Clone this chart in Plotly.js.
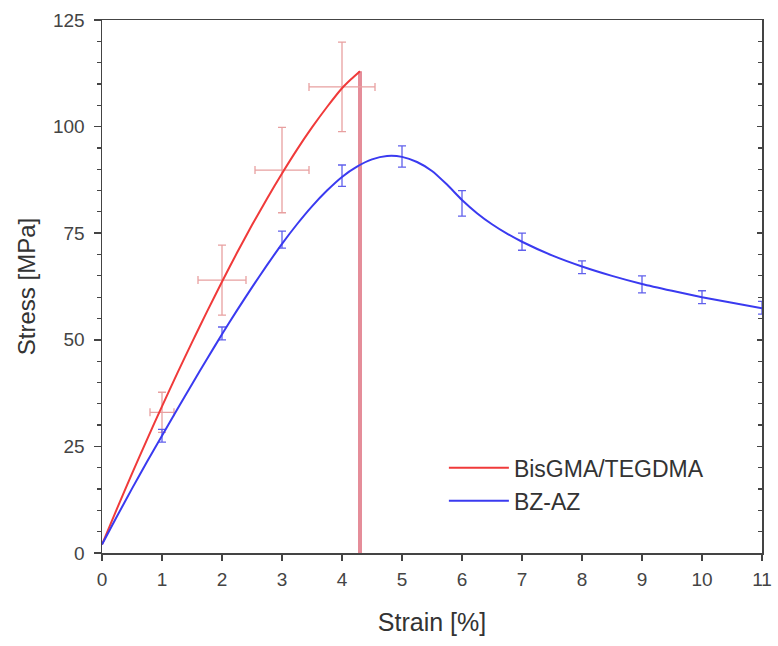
<!DOCTYPE html>
<html>
<head>
<meta charset="utf-8">
<script src="https://cdn.plot.ly/plotly-3.0.1.min.js"></script>
<style>
  html, body { margin: 0; padding: 0; background: #fff; }
  #chart { width: 778px; height: 646px; }
</style>
</head>
<body>
<div id="chart"></div>
<script>
// BisGMA/TEGDMA curve
const redCurveX = [0, 0.25, 0.5, 0.75, 1, 1.25, 1.5, 1.75, 2, 2.25, 2.5, 2.75, 3, 3.25, 3.5, 3.75, 4, 4.15, 4.3];
const redCurveY = [2, 10.4, 18.6, 26.6, 34.4, 42, 49.4, 56.6, 63.6, 70.4, 76.9, 83.1, 89, 94.6, 99.8, 104.6, 109, 111.1, 113];
const redDropX = [4.3, 4.3];
const redDropY = [113, 0];
// BisGMA/TEGDMA measured points with errors
const redPtsX = [1, 2, 3, 4];
const redPtsY = [33, 64, 89.8, 109.3];
const redErrY = [4.7, 8.2, 10, 10.5];
const redErrX = [0.2, 0.4, 0.45, 0.55];

// BZ-AZ curve
const blueCurveX = [0, 0.25, 0.5, 0.75, 1, 1.25, 1.5, 1.75, 2, 2.25, 2.5, 2.75, 3, 3.25, 3.5, 3.75, 4, 4.25, 4.5, 4.75, 5, 5.25, 5.5, 5.75, 6, 6.25, 6.5, 6.75, 7, 7.5, 8, 8.5, 9, 9.5, 10, 10.5, 11];
const blueCurveY = [2, 8.6, 15.1, 21.4, 27.5, 33.6, 39.6, 45.5, 51.3, 56.9, 62.3, 67.5, 72.5, 77.1, 81.3, 85, 88.2, 90.6, 92.3, 93.1, 92.9, 91.7, 89.6, 86.4, 82.8, 79.7, 77.1, 74.9, 73, 69.8, 67.2, 65, 63.1, 61.5, 60, 58.7, 57.4];
// BZ-AZ measured points with errors
const bluePtsX = [1, 2, 3, 4, 5, 6, 7, 8, 9, 10, 11];
const bluePtsY = [27.5, 51.5, 73.5, 88.5, 93, 82, 73, 67, 63, 60, 57.5];
const blueErrY = [1.5, 1.5, 2, 2.5, 2.5, 3, 2, 1.5, 2, 1.5, 1.5];

const xTicks = [0,1,2,3,4,5,6,7,8,9,10,11];
const yTicks = [0,25,50,75,100,125];

const RED = '#f03a3a';
const BLUE = '#3a3af0';

const traces = [
  {
    x: redDropX, y: redDropY, mode: 'lines', showlegend: false, hoverinfo: 'skip',
    line: { color: '#e58d99', width: 4 }
  },
  {
    x: redPtsX, y: redPtsY, mode: 'markers', showlegend: false,
    marker: { size: 1, color: 'rgba(0,0,0,0)' },
    error_y: { type: 'data', array: redErrY, color: '#e8a0a0', thickness: 1.3, width: 4 },
    error_x: { type: 'data', array: redErrX, color: '#e8a0a0', thickness: 1.3, width: 4 }
  },
  {
    x: bluePtsX, y: bluePtsY, mode: 'markers', showlegend: false,
    marker: { size: 1, color: 'rgba(0,0,0,0)' },
    error_y: { type: 'data', array: blueErrY, color: '#6060ec', thickness: 1.3, width: 4 }
  },
  {
    x: redCurveX, y: redCurveY, mode: 'lines', name: 'BisGMA/TEGDMA',
    line: { color: RED, width: 2, shape: 'spline', smoothing: 0.6 }
  },
  {
    x: blueCurveX, y: blueCurveY, mode: 'lines', name: 'BZ-AZ',
    line: { color: BLUE, width: 2, shape: 'spline', smoothing: 0.6 }
  },
  {
    x: [], y: [], yaxis: 'y2', showlegend: false, hoverinfo: 'skip'
  }
];

const fontFam = 'Liberation Sans, Arial, sans-serif';

const layout = {
  width: 778, height: 646,
  margin: { l: 102, r: 16, t: 20, b: 93 },
  paper_bgcolor: '#ffffff', plot_bgcolor: '#ffffff',
  showlegend: true,
  legend: {
    x: 0.518, y: 0.2, xanchor: 'left', yanchor: 'top',
    bgcolor: 'rgba(255,255,255,0)',
    font: { family: fontFam, size: 23, color: '#333' },
    tracegroupgap: 0, itemwidth: 60
  },
  xaxis: {
    range: [0, 11], tickvals: xTicks, ticktext: xTicks.map(String),
    showgrid: false, zeroline: false,
    showline: true, linecolor: '#444', linewidth: 1.5, mirror: true,
    ticks: 'outside', ticklen: 6, tickwidth: 1.5, tickcolor: '#444',
    ticklabelstandoff: 3,
    tickfont: { family: fontFam, size: 19, color: '#444' },
    title: { text: 'Strain [%]', font: { family: fontFam, size: 25, color: '#333' }, standoff: 24 }
  },
  yaxis: {
    range: [0, 125], tickvals: yTicks, ticktext: yTicks.map(String),
    showgrid: false, zeroline: false,
    showline: true, linecolor: '#444', linewidth: 1.5, mirror: true,
    ticks: 'outside', ticklen: 7, tickwidth: 1.5, tickcolor: '#444',
    ticklabelstandoff: 5,
    minor: { dtick: 5, ticks: 'outside', ticklen: 4, tickwidth: 1.2, tickcolor: '#444' },
    tickfont: { family: fontFam, size: 19, color: '#444' },
    title: { text: 'Stress [MPa]', font: { family: fontFam, size: 24, color: '#333' }, standoff: 10 }
  },
  yaxis2: {
    range: [0, 125], overlaying: 'y', side: 'right', anchor: 'x',
    tickvals: yTicks, showticklabels: false,
    showgrid: false, zeroline: false, showline: false,
    ticks: 'inside', ticklen: 5, tickwidth: 1.5, tickcolor: '#444',
    minor: { dtick: 5, ticks: 'inside', ticklen: 4, tickwidth: 1.2, tickcolor: '#444' }
  }
};

Plotly.newPlot('chart', traces, layout, { displayModeBar: false, staticPlot: true });
</script>
</body>
</html>
